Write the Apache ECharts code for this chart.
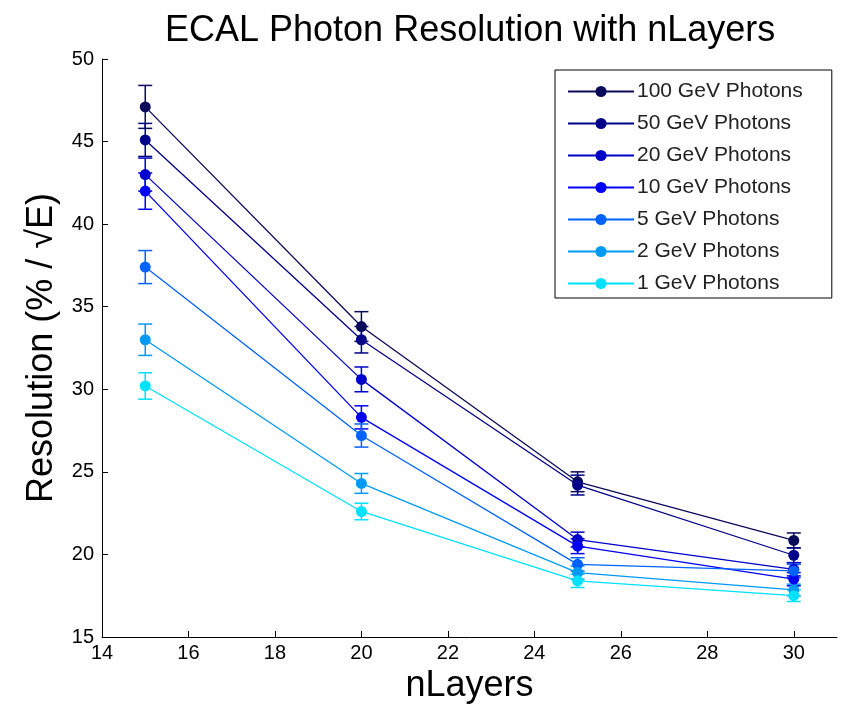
<!DOCTYPE html>
<html>
<head>
<meta charset="utf-8">
<script src="https://cdn.jsdelivr.net/npm/echarts@6.0.0/dist/echarts.min.js"></script>
<style>
  html, body { margin: 0; padding: 0; background: #fff; }
  #chart { width: 845px; height: 712px; }
</style>
</head>
<body>
<div id="chart"></div>
<script>
// nLayers on the x axis
const nLayers = [15, 20, 25, 30];

// resolution (% / sqrt(E)) per photon energy
const res100 = [47.1, 33.8, 24.4, 20.85];
const res50 = [45.1, 33.0, 24.2, 19.95];
const res20 = [43.0, 30.6, 20.9, 19.1];
const res10 = [42.0, 28.3, 20.5, 18.5];
const res5 = [37.4, 27.2, 19.4, 19.0];
const res2 = [33.0, 24.3, 18.9, 17.85];
const res1 = [30.2, 22.6, 18.4, 17.5];

// error bar half heights
const err100 = [1.3, 0.9, 0.6, 0.45];
const err50 = [1.0, 0.8, 0.6, 0.45];
const err20 = [1.0, 0.75, 0.45, 0.4];
const err10 = [1.1, 0.7, 0.45, 0.4];
const err5 = [1.0, 0.7, 0.4, 0.4];
const err2 = [0.95, 0.6, 0.4, 0.35];
const err1 = [0.8, 0.5, 0.4, 0.35];

const seriesNames = [
  "100 GeV Photons", "50 GeV Photons", "20 GeV Photons", "10 GeV Photons",
  "5 GeV Photons", "2 GeV Photons", "1 GeV Photons"
];
const xTicks = [14, 16, 18, 20, 22, 24, 26, 28, 30];
const yTicks = [15, 20, 25, 30, 35, 40, 45, 50];

const values = [res100, res50, res20, res10, res5, res2, res1];
const errors = [err100, err50, err20, err10, err5, err2, err1];
const colors = ["#0a0a5a", "#000088", "#0000c8", "#0000f5", "#0062ff", "#009af5", "#00e0ff"];

const FONT = "'Liberation Sans', Arial, Helvetica, sans-serif";

function errorBar(params, api) {
  const x = api.value(0);
  const lo = api.coord([x, api.value(1)]);
  const hi = api.coord([x, api.value(2)]);
  const half = 7;
  const style = { stroke: api.visual("color"), lineWidth: 1.5 };
  return {
    type: "group",
    children: [
      { type: "line", shape: { x1: hi[0], y1: hi[1], x2: lo[0], y2: lo[1] }, style: style },
      { type: "line", shape: { x1: hi[0] - half, y1: hi[1], x2: hi[0] + half, y2: hi[1] }, style: style },
      { type: "line", shape: { x1: lo[0] - half, y1: lo[1], x2: lo[0] + half, y2: lo[1] }, style: style }
    ]
  };
}

const series = [];
seriesNames.forEach((name, i) => {
  series.push({
    name: name,
    type: "line",
    symbol: "circle",
    symbolSize: 11,
    color: colors[i],
    lineStyle: { width: 1.3, color: colors[i] },
    itemStyle: { color: colors[i] },
    z: 3,
    data: nLayers.map((x, j) => [x, values[i][j]])
  });
  series.push({
    name: name,
    type: "custom",
    renderItem: errorBar,
    itemStyle: { color: colors[i] },
    encode: { x: 0, y: [1, 2] },
    z: 2,
    data: nLayers.map((x, j) => [x, values[i][j] - errors[i][j], values[i][j] + errors[i][j]])
  });
});

const chart = echarts.init(document.getElementById("chart"));
const option = {
  animation: false,
  backgroundColor: "#fff",
  title: {
    text: "ECAL Photon Resolution with nLayers",
    left: 160,
    top: 8,
    textStyle: { fontFamily: FONT, fontSize: 36, fontWeight: "normal", color: "#000" }
  },
  legend: {
    data: seriesNames,
    orient: "vertical",
    left: 555,
    top: 70,
    itemWidth: 66,
    itemHeight: 14,
    itemGap: 11,
    padding: [11, 29, 4, 12],
    borderColor: "#000",
    borderWidth: 1,
    backgroundColor: "#fff",
    textStyle: { fontFamily: FONT, fontSize: 21, color: "#222", padding: [0, 0, 0, -2] }
  },
  grid: { left: 102, right: 8, top: 59, bottom: 75 },
  xAxis: {
    type: "value",
    min: 14,
    max: 31,
    interval: 2,
    name: "nLayers",
    nameLocation: "middle",
    nameGap: 30,
    nameTextStyle: { fontFamily: FONT, fontSize: 36, color: "#000" },
    axisLine: { lineStyle: { color: "#000", width: 1 } },
    axisTick: { inside: true, length: 6, customValues: xTicks, lineStyle: { color: "#000" } },
    axisLabel: { customValues: xTicks, fontFamily: FONT, fontSize: 20, color: "#000", margin: 6 },
    splitLine: { show: false }
  },
  yAxis: {
    type: "value",
    min: 15,
    max: 50,
    interval: 5,
    name: "Resolution (% / \u221AE)",
    nameLocation: "middle",
    nameRotate: 90,
    nameGap: 42,
    nameTextStyle: { fontFamily: FONT, fontSize: 36, color: "#000" },
    axisLine: { show: true, lineStyle: { color: "#000", width: 1 } },
    axisTick: { show: true, inside: true, length: 6, customValues: yTicks, lineStyle: { color: "#000" } },
    axisLabel: { customValues: yTicks, fontFamily: FONT, fontSize: 20, color: "#000", margin: 8 },
    splitLine: { show: false }
  },
  series: series
};
chart.setOption(option);
</script>
</body>
</html>
